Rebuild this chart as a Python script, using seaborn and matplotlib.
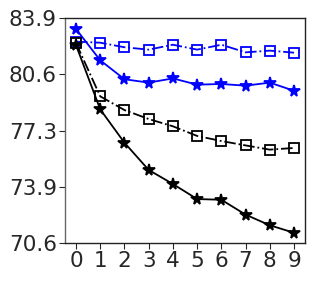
import numpy as np
import pandas as pd
import matplotlib
matplotlib.use("Agg")
import matplotlib.pyplot as plt
import seaborn as sns

# ==============================
# Data
# ==============================
steps = list(range(10))
blue_square = [82.50, 82.44, 82.17, 82.03, 82.32, 82.03, 82.32, 81.87, 81.97, 81.85]
blue_star = [83.25, 81.40, 80.28, 80.08, 80.33, 79.96, 80.00, 79.90, 80.08, 79.60]
black_square = [82.42, 79.27, 78.46, 77.93, 77.50, 76.93, 76.63, 76.37, 76.12, 76.22]
black_star = [82.30, 78.50, 76.53, 74.92, 74.09, 73.20, 73.16, 72.28, 71.65, 71.21]
y_ticks = [70.6, 73.925, 77.25, 80.575, 83.9]
y_tick_labels = ["70.6", "73.9", "77.3", "80.6", "83.9"]

sns.set_style("white")
plt.rcParams["font.family"] = ["DejaVu Sans"]

fig = plt.figure(figsize=(3.16, 2.81), dpi=100)
ax = fig.add_axes([0.206, 0.135, 0.759, 0.801])

series = [
    (blue_square, "blue", "-.", "s", 7.5),
    (blue_star, "blue", "-", "*", 8.5),
    (black_square, "black", "-.", "s", 7.5),
    (black_star, "black", "-", "*", 8.5),
]
for vals, color, ls, mk, ms in series:
    df = pd.DataFrame({"step": steps, "acc": vals})
    sns.lineplot(data=df, x="step", y="acc", ax=ax, color=color, linestyle=ls,
                 marker=mk, markersize=ms, markerfacecolor="none" if mk == "s" else color,
                 markeredgecolor=color, markeredgewidth=1.3, linewidth=1.3)

ax.set_xlim(-0.45, 9.45)
ax.set_ylim(70.6, 83.9)
ax.set_xticks(steps)
ax.set_yticks(y_ticks)
ax.set_yticklabels(y_tick_labels)
ax.set_xlabel("")
ax.set_ylabel("")
ax.tick_params(axis="both", labelsize=15.5, length=4, width=0.8, direction="out",
               left=True, bottom=True, pad=2)
for sp in ax.spines.values():
    sp.set_color("#222222")
    sp.set_linewidth(1.0)
ax.spines["left"].set_color("#666666")

fig.savefig("out.png", dpi=100)
